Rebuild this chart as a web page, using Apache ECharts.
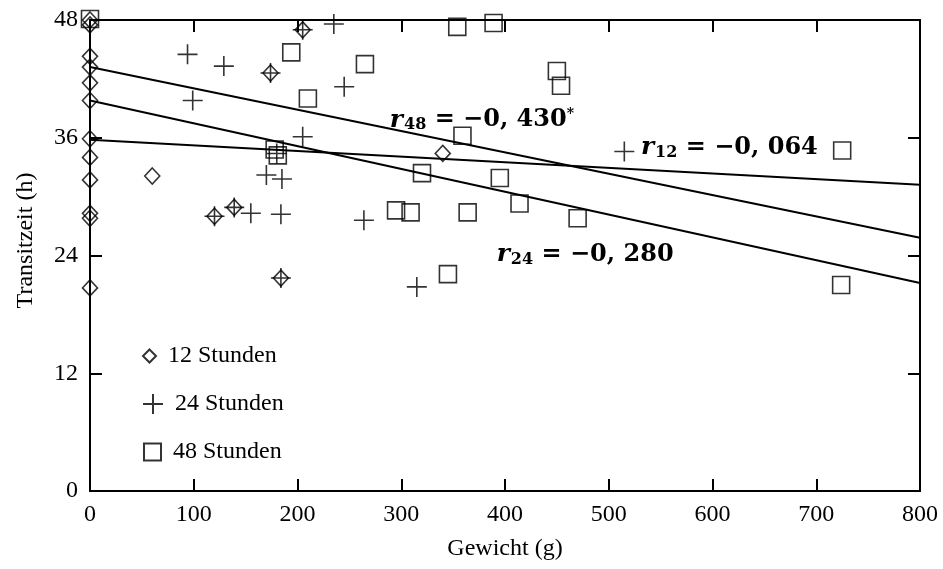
<!DOCTYPE html>
<html>
<head>
<meta charset="utf-8">
<title>Transitzeit</title>
<script src="https://cdn.jsdelivr.net/npm/echarts@6/dist/echarts.min.js"></script>
<style>
 html, body { margin: 0; padding: 0; background: #fff; }
 #content { width: 943px; height: 569px; }
</style>
</head>
<body>
<div id="content"></div>
<script>
// Messwerte: Gewicht (g) und Transitzeit (h)
var gewicht12 = [0, 0, 0, 0, 0, 0, 0, 0, 0, 0, 0, 0, 60, 120, 139, 184, 174, 205, 340];
var zeit12    = [48, 47.5, 44.3, 43.2, 41.6, 39.8, 35.9, 34, 31.7, 28.3, 27.8, 20.7, 32.1, 28, 28.9, 21.7, 42.6, 47, 34.4];

var gewicht24 = [94, 129, 99, 245, 235, 205, 174, 205, 180, 170, 185, 120, 139, 155, 184, 264, 184, 315, 515];
var zeit24    = [44.5, 43.3, 39.8, 41.2, 47.6, 47, 42.6, 36.1, 34.4, 32.2, 31.8, 28, 28.9, 28.3, 28.2, 27.6, 21.7, 20.8, 34.6];

var gewicht48 = [0, 194, 265, 210, 178, 181, 354, 389, 450, 454, 359, 320, 395, 414, 470, 295, 309, 364, 345, 725, 724];
var zeit48    = [48.1, 44.7, 43.5, 40, 34.8, 34.2, 47.3, 47.7, 42.8, 41.3, 36.2, 32.4, 31.9, 29.3, 27.8, 28.6, 28.4, 28.4, 22.1, 34.7, 21];

// Regressionsgeraden (Anfang bei 0 g, Ende bei 800 g)
var linie12 = [35.8, 31.2];
var linie24 = [39.8, 21.2];
var linie48 = [43.2, 25.8];
var linieX = [0, 800];

var xTicks = [0, 800, 100];
var yTicks = [0, 48, 12];

var font = 'Liberation Serif';
var fontFett = 'DejaVu Serif';
var myChart = echarts.init(document.getElementById('content'));

function paare(xs, ys) {
    return xs.map(function (x, i) { return [x, ys[i]]; });
}

var plusPfad = 'path://M0,10L20,10M10,0L10,20';

function achseX(pos, labels) {
    return {
        type: 'value', position: pos, min: xTicks[0], max: xTicks[1], interval: xTicks[2],
        axisLine: { show: true, onZero: false, lineStyle: { color: '#000', width: 2 } },
        axisTick: { show: true, inside: true, length: 12, lineStyle: { color: '#000', width: 2 } },
        axisLabel: { show: labels, color: '#000', fontFamily: font, fontSize: 24, margin: 12 },
        splitLine: { show: false }
    };
}
function achseY(pos, labels) {
    return {
        type: 'value', position: pos, min: yTicks[0], max: yTicks[1], interval: yTicks[2],
        axisLine: { show: true, onZero: false, lineStyle: { color: '#000', width: 2 } },
        axisTick: { show: true, inside: true, length: 12, lineStyle: { color: '#000', width: 2 } },
        axisLabel: { show: labels, color: '#000', fontFamily: font, fontSize: 24, margin: 12 },
        splitLine: { show: false }
    };
}

var xa = achseX('bottom', true);
xa.name = 'Gewicht (g)';
xa.nameLocation = 'middle';
xa.nameGap = 46;
xa.nameTextStyle = { color: '#000', fontFamily: font, fontSize: 24 };
var ya = achseY('left', true);
ya.name = 'Transitzeit (h)';
ya.nameLocation = 'middle';
ya.nameGap = 52;
ya.nameTextStyle = { color: '#000', fontFamily: font, fontSize: 24, padding: [0, 0, 0, 30] };

var hohl = { color: 'rgba(0,0,0,0)', borderColor: '#000', borderWidth: 1.6 };

var rich = {
    r: { fontFamily: fontFett, fontStyle: 'italic', fontWeight: 'bold', fontSize: 25, color: '#000' },
    s: { fontFamily: fontFett, fontWeight: 'bold', fontSize: 16, color: '#000', padding: [10, 0, 0, 1] },
    t: { fontFamily: fontFett, fontWeight: 'bold', fontSize: 24, color: '#000' },
    h: { fontFamily: fontFett, fontWeight: 'bold', fontSize: 14, color: '#000', padding: [0, 0, 12, 0] }
};

function gerade(name, werte, beschriftung, pos) {
    return {
        name: name, type: 'line', xAxisIndex: 0, yAxisIndex: 0,
        data: paare(linieX, werte), showSymbol: false, symbol: 'none', silent: true,
        lineStyle: { color: '#000', width: 2 },
        markPoint: {
            symbol: 'circle', symbolSize: 0, silent: true,
            label: { show: true, position: 'right', distance: 0, formatter: beschriftung, rich: rich },
            data: [{ coord: pos }]
        }
    };
}

function legende(name, left, top, w, h) {
    return {
        orient: 'vertical', left: left, top: top, itemWidth: w, itemHeight: h,
        textStyle: { color: '#000', fontFamily: font, fontSize: 24, padding: [0, 0, 0, 7] },
        data: [name]
    };
}

option = {
    animation: false,
    backgroundColor: '#fff',
    grid: { left: 90, right: 23, top: 20, bottom: 78, containLabel: false },
    legend: [
        legende('12 Stunden', 137, 339, 13, 13),
        legende('24 Stunden', 137, 387, 20, 20),
        legende('48 Stunden', 138, 435, 17, 17)
    ],
    xAxis: [xa, achseX('top', false)],
    yAxis: [ya, achseY('right', false)],
    series: [
        {
            name: '12 Stunden', type: 'scatter', clip: false,
            symbol: 'diamond', symbolSize: [15, 16],
            itemStyle: hohl, data: paare(gewicht12, zeit12)
        },
        {
            name: '24 Stunden', type: 'scatter', clip: false,
            symbol: plusPfad, symbolSize: 20,
            itemStyle: { color: 'rgba(0,0,0,0)', borderColor: '#000', borderWidth: 1.6 },
            data: paare(gewicht24, zeit24)
        },
        {
            name: '48 Stunden', type: 'scatter', clip: false,
            symbol: 'rect', symbolSize: 17,
            itemStyle: hohl, data: paare(gewicht48, zeit48)
        },
        gerade('r12', linie12, '{r|r}{s|12}{t| = \u22120, 064}', [531, 35]),
        gerade('r24', linie24, '{r|r}{s|24}{t| = \u22120, 280}', [392, 24.1]),
        gerade('r48', linie48, '{r|r}{s|48}{t| = \u22120, 430}{h|*}', [289, 37.8])
    ]
};

myChart.setOption(option);
</script>
</body>
</html>
